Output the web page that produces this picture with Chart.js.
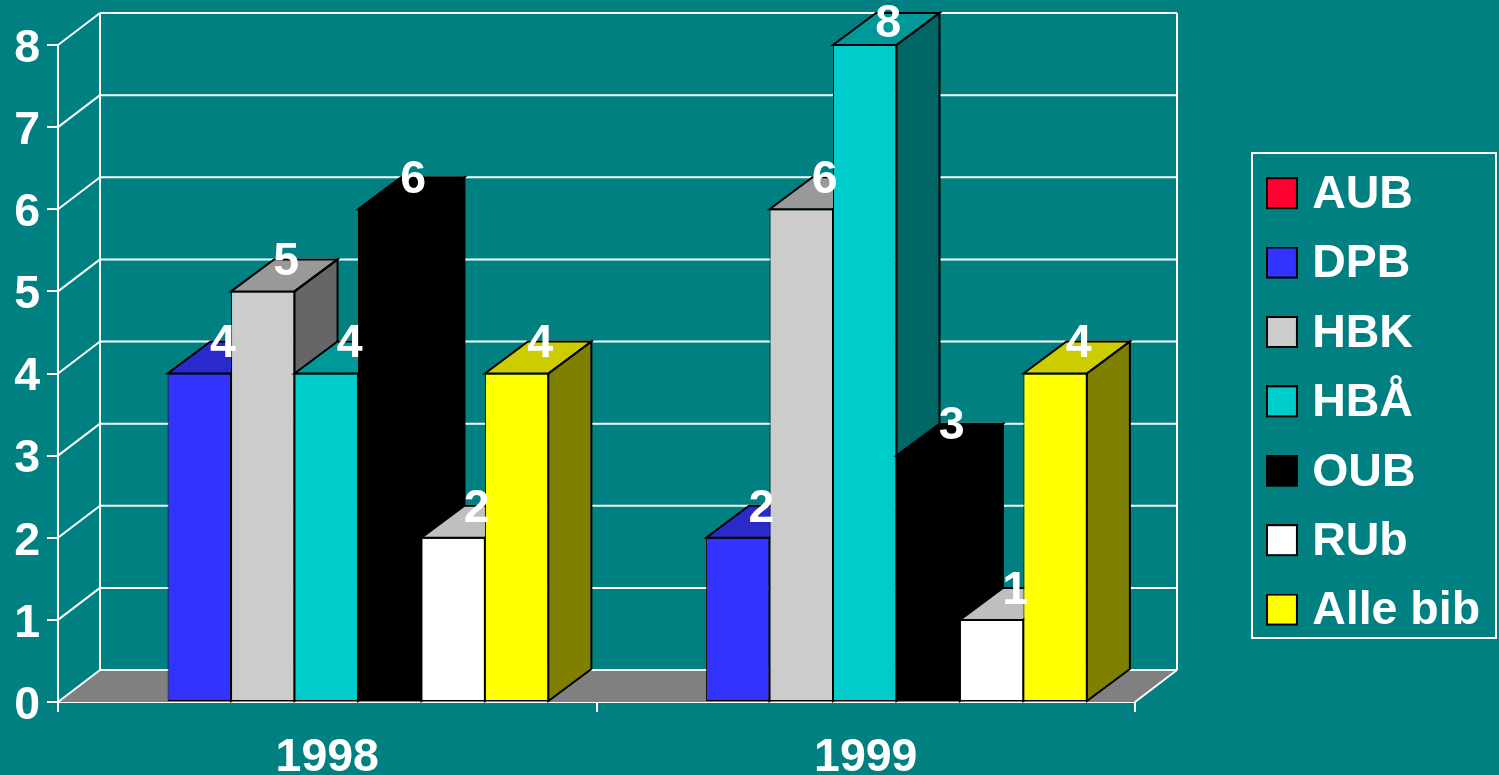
<!DOCTYPE html>
<html>
<head>
<meta charset="utf-8">
<style>
html, body { margin: 0; padding: 0; background: #008080; overflow: hidden; }
canvas { display: block; }
</style>
<script src="https://cdn.jsdelivr.net/npm/chart.js@4"></script>
</head>
<body>
<canvas id="chart" width="1499" height="775"></canvas>
<script>
const years = ['1998', '1999'];
const libraries = ['AUB', 'DPB', 'HBK', 'HBÅ', 'OUB', 'RUb', 'Alle bib'];
const aub = [null, null];
const dpb = [4, 2];
const hbk = [5, 6];
const hbaa = [4, 8];
const oub = [6, 3];
const rub = [2, 1];
const alleBib = [4, 4];
const seriesValues = [aub, dpb, hbk, hbaa, oub, rub, alleBib];

const frontColors = ['#FF0033', '#3333FF', '#CCCCCC', '#00CCCC', '#000000', '#FFFFFF', '#FFFF00'];
const topColors = ['#CC0029', '#2929CC', '#999999', '#009999', '#000000', '#BFBFBF', '#CCCC00'];
const sideColors = ['#800019', '#1A1A80', '#666666', '#006666', '#000000', '#808080', '#808000'];

// how far the 3D box goes back
const DX = 42;
const DY = 32;
const BAR_DX = 43;
const BAR_SHIFT = -1;
const FONT = { family: '"Liberation Sans"', size: 46.5, weight: 'bold' };

function poly(ctx, pts, fill, stroke) {
    ctx.beginPath();
    pts.forEach((p, i) => i ? ctx.lineTo(p[0], p[1]) : ctx.moveTo(p[0], p[1]));
    ctx.closePath();
    if (fill) { ctx.fillStyle = fill; ctx.fill(); }
    if (stroke) { ctx.strokeStyle = stroke; ctx.lineWidth = 2; ctx.lineJoin = 'miter'; ctx.stroke(); }
}

function line(ctx, x1, y1, x2, y2) {
    ctx.beginPath();
    ctx.moveTo(x1, y1);
    ctx.lineTo(x2, y2);
    ctx.stroke();
}

// legend swatch, drawn to a small canvas so the legend can use it as point style
// canvas is a bit taller than the box: the box has to sit slightly above the text middle
function swatch(color) {
    const c = document.createElement('canvas');
    c.width = 32;
    c.height = 36;
    const g = c.getContext('2d');
    g.fillStyle = '#000000';
    g.fillRect(0, 0, 32, 32);
    g.fillStyle = color;
    g.fillRect(2, 2, 28, 28);
    return c;
}

function sideFace(bar) {
    const r = bar.x + bar.width / 2;
    return [[r, bar.y], [r + BAR_DX, bar.y - DY], [r + BAR_DX, bar.base - DY], [r, bar.base]];
}

function topFace(bar) {
    const l = bar.x - bar.width / 2;
    const r = bar.x + bar.width / 2;
    return [[l, bar.y], [l + BAR_DX, bar.y - DY], [r + BAR_DX, bar.y - DY], [r, bar.y]];
}

const walls3d = {
    id: 'walls3d',
    afterLayout(chart) {
        // legend sits right of the plot, not inside it
        const legend = chart.legend;
        legend.left = 1252;
        legend.right = 1496;
        legend.top = 149;
        legend.bottom = 740;
    },
    beforeDatasetsDraw(chart) {
        const ctx = chart.ctx;
        const a = chart.chartArea;
        const y = chart.scales.y;
        ctx.save();
        // floor
        poly(ctx, [[a.left, a.bottom], [a.left + DX, a.bottom - DY], [a.right + DX, a.bottom - DY], [a.right, a.bottom]], '#808080');
        ctx.strokeStyle = '#FFFFFF';
        ctx.lineWidth = 2;
        y.ticks.forEach(t => {
            const py = y.getPixelForValue(t.value);
            line(ctx, a.left, py, a.left + DX, py - DY);
            line(ctx, a.left + DX, py - DY, a.right + DX, py - DY);
        });
        line(ctx, a.left + DX, a.top - DY, a.left + DX, a.bottom - DY);
        line(ctx, a.right + DX, a.top - DY, a.right + DX, a.bottom - DY);
        line(ctx, a.right, a.bottom, a.right + DX, a.bottom - DY);

        // bars go left to right, each one covers the side of the one before
        ctx.translate(BAR_SHIFT, 0);
        chart.data.datasets.forEach((ds, i) => {
            const meta = chart.getDatasetMeta(i);
            const bars = meta.data.filter((bar, j) => ds.data[j] !== null);
            bars.forEach(bar => {
                poly(ctx, sideFace(bar), sideColors[i]);
                poly(ctx, topFace(bar), topColors[i]);
            });
            meta.controller.draw();
            // outlines again on top so the edges keep their full width
            bars.forEach(bar => {
                poly(ctx, sideFace(bar), null, '#000000');
                poly(ctx, topFace(bar), null, '#000000');
            });
        });
        ctx.restore();
    },
    beforeDatasetDraw() {
        return false;
    },
    afterDatasetsDraw(chart) {
        const ctx = chart.ctx;
        ctx.save();
        ctx.fillStyle = '#FFFFFF';
        ctx.font = 'bold 46.5px "Liberation Sans"';
        ctx.textAlign = 'center';
        ctx.textBaseline = 'middle';
        chart.data.datasets.forEach((ds, i) => {
            chart.getDatasetMeta(i).data.forEach((bar, j) => {
                if (ds.data[j] === null) return;
                // the tallest label is pushed down so it stays on the page
                const ly = Math.max(bar.y - DY + 3, 24);
                ctx.fillText(String(ds.data[j]), bar.x + BAR_SHIFT + BAR_DX / 2 + 2, ly);
            });
        });
        ctx.restore();
    },
    afterDraw(chart) {
        const ctx = chart.ctx;
        ctx.save();
        ctx.strokeStyle = '#FFFFFF';
        ctx.lineWidth = 2;
        ctx.strokeRect(1252, 153, 244, 485);
        ctx.restore();
    }
};

new Chart(document.getElementById('chart'), {
    type: 'bar',
    data: {
        labels: years,
        datasets: libraries.map((name, i) => ({
            label: name,
            data: seriesValues[i],
            backgroundColor: frontColors[i],
            borderColor: '#000000',
            // black bar: a border only leaves a seam
            borderWidth: frontColors[i] === '#000000' ? 0 : 1,
            borderSkipped: false
        }))
    },
    plugins: [walls3d],
    options: {
        responsive: false,
        animation: false,
        layout: { padding: { top: 45, right: 364, bottom: 0, left: 0 } },
        datasets: { bar: { categoryPercentage: 0.825, barPercentage: 1 } },
        scales: {
            x: {
                afterFit: s => { s.height = 73; },
                border: { color: '#FFFFFF', width: 2 },
                grid: { color: '#FFFFFF', lineWidth: 2, drawOnChartArea: false, tickLength: 10 },
                ticks: { color: '#FFFFFF', font: FONT, padding: 18, maxRotation: 0 }
            },
            y: {
                min: 0,
                max: 8,
                afterFit: s => { s.width = 58; },
                border: { color: '#FFFFFF', width: 2 },
                grid: { color: '#FFFFFF', lineWidth: 2, drawOnChartArea: false, tickLength: 11 },
                ticks: { color: '#FFFFFF', font: FONT, stepSize: 1, padding: 7, labelOffset: 4 }
            }
        },
        plugins: {
            tooltip: { enabled: false },
            title: { display: false },
            legend: {
                position: 'chartArea',
                align: 'start',
                labels: {
                    color: '#FFFFFF',
                    font: FONT,
                    usePointStyle: true,
                    pointStyleWidth: 14,
                    padding: 22.9,
                    generateLabels(chart) {
                        const items = Chart.defaults.plugins.legend.labels.generateLabels(chart);
                        items.forEach((it, i) => { it.pointStyle = swatch(frontColors[i]); });
                        return items;
                    }
                }
            }
        }
    }
});
</script>
</body>
</html>
